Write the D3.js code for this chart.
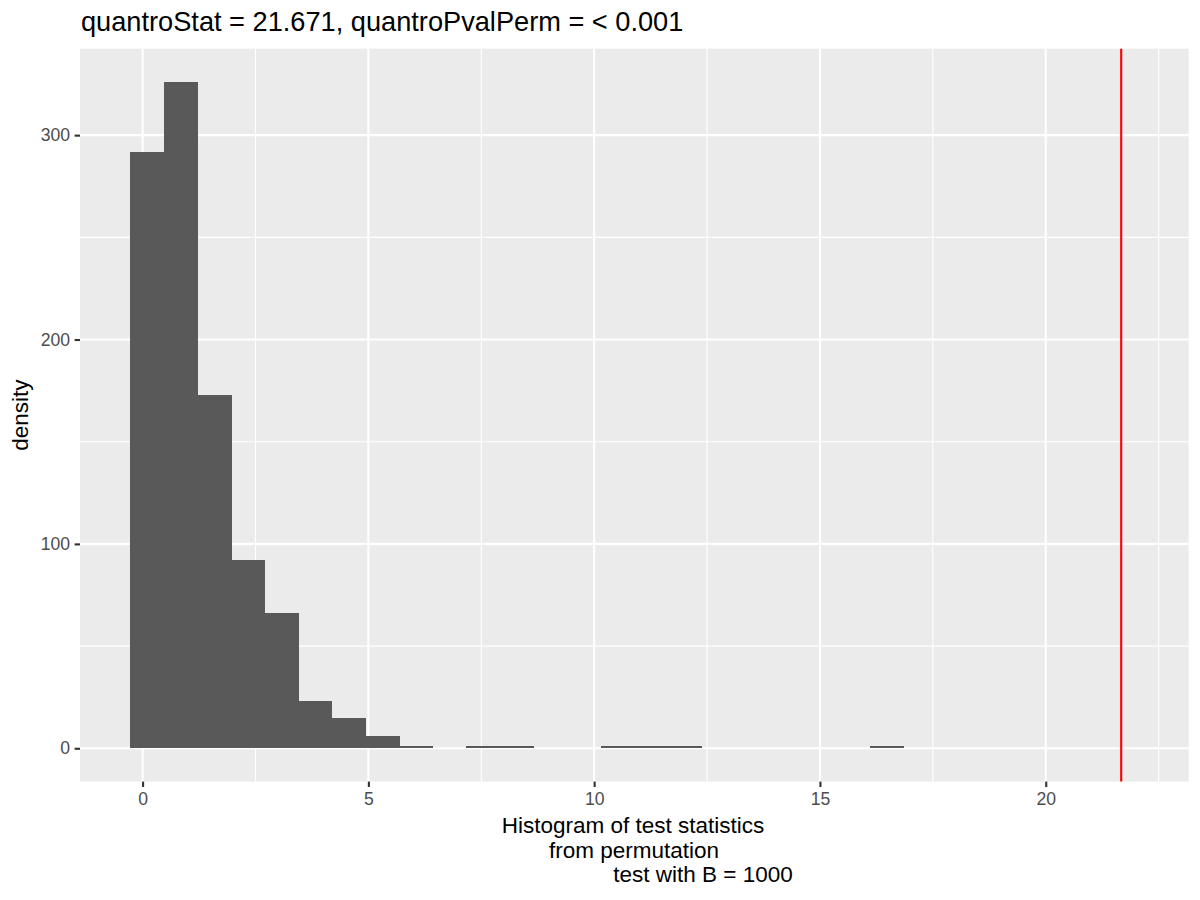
<!DOCTYPE html>
<html lang="en">
<head>
    <meta charset="UTF-8">
    <title>quantro permutation histogram</title>
    <style>
        body { margin: 0; padding: 0; background: #fff; }
        svg { display: block; font-family: "Liberation Sans", Arial, sans-serif; }
    </style>
</head>
<body>
    <script src="https://d3js.org/d3.v7.min.js"></script>
    <script>
        // histogram counts, 30 bins
        const binStart = -0.27;
        const binWidth = 0.744;
        const counts = [292, 326, 173, 92, 66, 23, 15, 6, 1, 0,
                        1, 1, 0, 0, 1, 1, 1, 0, 0, 0,
                        0, 0, 1, 0, 0, 0, 0, 0, 0, 0];
        const quantroStat = 21.671;
        const xTicks = [0, 5, 10, 15, 20];
        const xMinor = [2.5, 7.5, 12.5, 17.5, 22.5];
        const yTicks = [0, 100, 200, 300];
        const yMinor = [50, 150, 250];
        const titleText = 'quantroStat = 21.671, quantroPvalPerm = < 0.001';
        const xTitleLines = ['Histogram of test statistics', 'from permutation', 'test with B = 1000'];

        const width = 1200, height = 900;
        const panel = { left: 80, right: 1188.7, top: 48.7, bottom: 781.6 };

        const svg = d3.select('body').append('svg')
            .attr('width', width)
            .attr('height', height);

        const bins = counts.map((c, i) => ({ x0: binStart + i * binWidth, x1: binStart + (i + 1) * binWidth, n: c }));

        // ggplot style 5% expansion
        const xLo = binStart, xHi = binStart + counts.length * binWidth;
        const xPad = (xHi - xLo) * 0.05;
        const x = d3.scaleLinear().domain([xLo - xPad, xHi + xPad]).range([panel.left, panel.right]);
        const yMax = d3.max(counts);
        const y = d3.scaleLinear().domain([-yMax * 0.05, yMax * 1.05]).range([panel.bottom, panel.top]);

        // panel background
        svg.append('rect')
            .attr('x', panel.left).attr('y', panel.top)
            .attr('width', panel.right - panel.left)
            .attr('height', panel.bottom - panel.top)
            .attr('fill', '#EBEBEB');

        const grid = svg.append('g').attr('class', 'grid').attr('stroke', '#fff');
        grid.selectAll('.xminor').data(xMinor).join('line')
            .attr('x1', d => x(d)).attr('x2', d => x(d))
            .attr('y1', panel.top).attr('y2', panel.bottom)
            .attr('stroke-width', 1.07);
        grid.selectAll('.yminor').data(yMinor).join('line')
            .attr('x1', panel.left).attr('x2', panel.right)
            .attr('y1', d => y(d)).attr('y2', d => y(d))
            .attr('stroke-width', 1.07);
        grid.selectAll('.xmajor').data(xTicks).join('line')
            .attr('x1', d => x(d)).attr('x2', d => x(d))
            .attr('y1', panel.top).attr('y2', panel.bottom)
            .attr('stroke-width', 2.1);
        grid.selectAll('.ymajor').data(yTicks).join('line')
            .attr('x1', panel.left).attr('x2', panel.right)
            .attr('y1', d => y(d)).attr('y2', d => y(d))
            .attr('stroke-width', 2.1);

        // bars
        svg.append('g').attr('class', 'bars')
            .attr('shape-rendering', 'crispEdges')
            .selectAll('rect')
            .data(bins.filter(b => b.n > 0))
            .join('rect')
            .attr('x', d => x(d.x0))
            .attr('width', d => x(d.x1) - x(d.x0) + 0.5)
            .attr('y', d => y(d.n))
            .attr('height', d => y(0) - y(d.n))
            .attr('fill', '#595959');

        // observed statistic
        svg.append('line')
            .attr('x1', x(quantroStat)).attr('x2', x(quantroStat))
            .attr('y1', panel.top).attr('y2', panel.bottom)
            .attr('stroke', 'red')
            .attr('stroke-width', 2.1);

        // axes
        const xAxis = svg.append('g')
            .attr('transform', `translate(0,${panel.bottom})`)
            .call(d3.axisBottom(x).tickValues(xTicks).tickSize(5.4).tickPadding(6).tickFormat(d3.format('d')));
        const yAxis = svg.append('g')
            .attr('transform', `translate(${panel.left},0)`)
            .call(d3.axisLeft(y).tickValues(yTicks).tickSize(5.4).tickPadding(4.5).tickFormat(d3.format('d')));
        [xAxis, yAxis].forEach(a => {
            a.select('.domain').remove();
            a.selectAll('.tick line').attr('stroke', '#333333').attr('stroke-width', 2.1);
            a.selectAll('.tick text')
                .attr('fill', '#4D4D4D')
                .attr('font-size', 17.6)
                .attr('font-family', '"Liberation Sans", Arial, sans-serif');
        });

        // title
        svg.append('text')
            .attr('x', 81).attr('y', 30.7)
            .attr('font-size', 27.2)
            .attr('fill', '#000')
            .text(titleText);

        // x axis title (three lines, as in the original padded label)
        const xTitleX = [501.7, 549, 613.3];
        svg.append('g').selectAll('text')
            .data(xTitleLines)
            .join('text')
            .attr('x', (d, i) => xTitleX[i])
            .attr('y', (d, i) => 833.3 + i * 24.2)
            .attr('font-size', 22.5)
            .attr('fill', '#000')
            .text(d => d);

        // y axis title
        svg.append('text')
            .attr('transform', `translate(28,${(panel.top + panel.bottom) / 2}) rotate(-90)`)
            .attr('text-anchor', 'middle')
            .attr('font-size', 22.5)
            .attr('fill', '#000')
            .text('density');
    </script>
</body>
</html>
